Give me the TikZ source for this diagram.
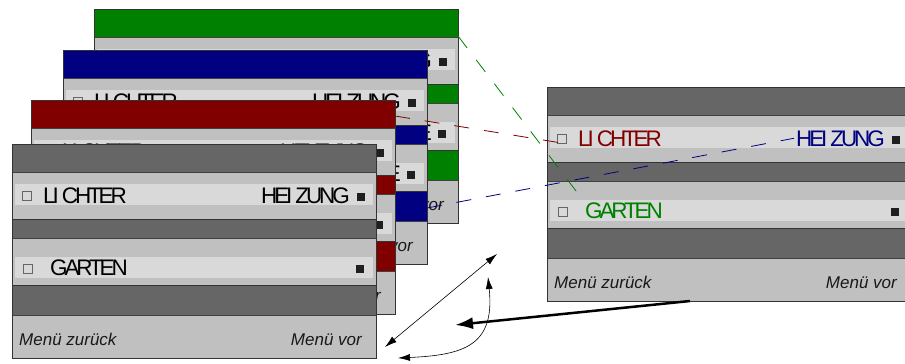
\documentclass[tikz,border=0pt]{standalone}
\usepackage{fontspec}
\setmainfont{Liberation Sans}
\newfontfamily\tightfont[LetterSpace=-14]{Liberation Sans}
\usetikzlibrary{arrows.meta}

\definecolor{bargray}{HTML}{666666}
\definecolor{rowgray}{HTML}{C0C0C0}
\definecolor{stripgray}{HTML}{D9D9D9}
\definecolor{scrgreen}{HTML}{008000}
\definecolor{scrblue}{HTML}{000080}
\definecolor{scrred}{HTML}{800000}

\tikzset{
  frame/.style={draw=black!80, line width=1bp},
  row/.style={fill=rowgray, draw=black!75, line width=0.8bp},
  bar/.style={fill=#1, draw=black!80, line width=0.8bp},
  strip/.style={fill=stripgray},
  menutext/.style={font=\tightfont\fontsize{22.5bp}{24bp}\selectfont, inner sep=2bp},
  navtext/.style={font=\fontsize{17bp}{20bp}\selectfont\itshape, text=black!90, inner sep=2bp},
  offbox/.style={draw=black!60, fill=stripgray, line width=0.7bp, minimum size=9bp, inner sep=0},
  onbox/.style={fill=black!88, minimum size=8bp, inner sep=0},
  link/.style={dash pattern=on 15bp off 15bp, line width=0.8bp},
  nav/.style={{Latex[length=12bp,width=7bp]}-{Latex[length=12bp,width=7bp]}, line width=0.6bp}
}

% one menu screen: name, top left corner, bar colour, text colours, second row texts, back text
\newcommand{\menuscreen}[9]{%
  \begin{scope}[shift={(#2)}]
    \draw[bar=#3] (0,0) rectangle (364,28);
    \draw[row] (0,28) rectangle (364,75);
    \fill[strip] (3,40) rectangle (361,61);
    \draw[bar=#3] (0,75) rectangle (364,94);
    \draw[row] (0,94) rectangle (364,141);
    \fill[strip] (3,113) rectangle (361,134);
    \draw[bar=#3] (0,141) rectangle (364,171);
    \draw[row] (0,171) rectangle (364,214);
    \draw[frame] (0,0) rectangle (364,214);
    \node[offbox] (#1-box1) at (15,52) {};
    \node[menutext, text=#4, anchor=base west] (#1-licht) at (29,59) {LI CHTER};
    \node[menutext, text=#5, anchor=base east] (#1-heiz) at (340,59) {HEI ZUNG};
    \node[onbox] (#1-on1) at (349,53) {};
    \node[offbox] (#1-box2) at (16,125) {};
    \node[menutext, text=#6, anchor=base west] (#1-left2) at (36,131) {#7};
    \node[menutext, anchor=base east] (#1-right2) at (340,131) {#8};
    \node[onbox] (#1-on2) at (348,125) {};
    \node[navtext, anchor=base west] (#1-back) at (5,201) {#9};
    \node[navtext, anchor=base east] (#1-fwd) at (352,201) {Menü vor};
    \coordinate (#1-a) at (364,16);
    \coordinate (#1-b) at (364,27);
    \coordinate (#1-c) at (364,158);
  \end{scope}}

\begin{document}
\begin{tikzpicture}[x=1bp, y=-1bp]
  %%%%% START %%%%%
  \useasboundingbox (0,0) rectangle (905,363);
  \clip (0,0) rectangle (905,363);

  % stack of screens, back to front
  \menuscreen{green}{94,9}{scrgreen}{black}{black}{black}{}{E}{}
  \menuscreen{blue}{63,50}{scrblue}{black}{black}{black}{}{E}{}
  \menuscreen{red}{31,100}{scrred}{black}{black}{black}{}{}{}
  \menuscreen{front}{12,144}{bargray}{black}{black}{black}{GARTEN}{}{Menü zurück}

  % screen on the right
  \menuscreen{right}{547,87}{bargray}{scrred}{scrblue}{scrgreen}{GARTEN}{}{Menü zurück}

  % links from the coloured screens
  \draw[link, scrred] (red-a) -- (right-box1.south east);
  \draw[link, scrblue] (blue-c) -- (right-heiz.west);
  \draw[link, scrgreen] (green-b) -- (right-left2.north west);

  % navigation arrows
  \coordinate (navA) at (385,347);
  \coordinate (navB) at (497,254);
  \coordinate (navC) at (398,358);
  \coordinate (navD) at (488,277);
  \coordinate (navE) at (455,325);
  \coordinate (jump) at (690,301);
  \draw[nav] (navA) -- (navB);
  \draw[nav] (navC) .. controls (465,355) and (495,345) .. (navD);
  \draw[line width=2.5bp, -{Latex[length=18bp,width=12bp]}] (jump) -- (navE);
  %%%%% END %%%%%
\end{tikzpicture}
\end{document}
